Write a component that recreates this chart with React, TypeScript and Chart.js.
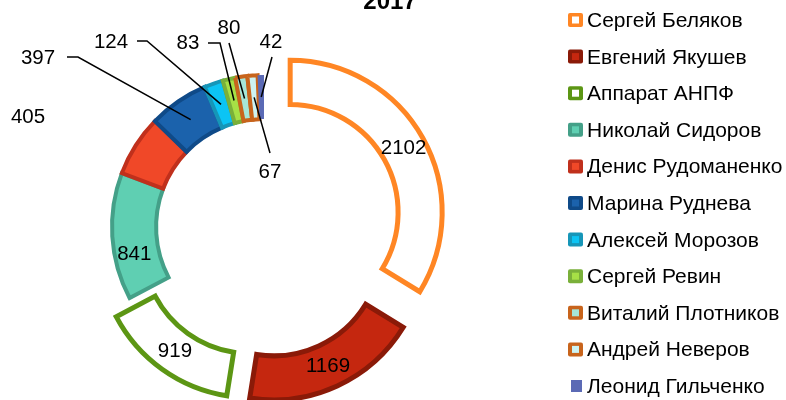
import React, { useEffect, useRef } from 'react';
import { Chart, registerables } from 'chart.js';

Chart.register(...registerables);

const TITLE = '2017';
const NAMES = [
  'Сергей Беляков',
  'Евгений Якушев',
  'Аппарат АНПФ',
  'Николай Сидоров',
  'Денис Рудоманенко',
  'Марина Руднева',
  'Алексей Морозов',
  'Сергей Ревин',
  'Виталий Плотников',
  'Андрей Неверов',
  'Леонид Гильченко',
];
const VALUES = [2102, 1169, 919, 841, 405, 397, 124, 83, 80, 67, 42];

const FILLS = ['#FFFFFF', '#C5270F', '#FFFFFF', '#5FCFB2', '#F04828', '#1B62AC', '#0CC4F4', '#A6E046', '#A6E6D8', '#CDF3F3', '#5B6AB5'];
const BORDERS = ['#FF8624', '#8A1A08', '#5C9614', '#44A088', '#C0301C', '#0F4A88', '#1696B8', '#7AB03A', '#C8641C', '#C8641C', '#5B6AB5'];
const BORDER_WIDTHS = [5, 5, 5, 4, 4, 4, 4, 4, 4, 4, 0];
const EXPLODE = [30, 23, 23, 0, 0, 0, 0, 0, 0, 0, 0];

type LabelLayout = { text?: [number, number]; dx?: number; dy?: number; path?: [number, number][] };
const LABEL_LAYOUT: LabelLayout[] = [
  {},
  {},
  {},
  { dy: 19 },
  { text: [28, 117] },
  { text: [38, 58], path: [[67, 57], [78, 57]] },
  { text: [111, 42], path: [[137, 41], [147, 41]] },
  { text: [188, 43], path: [[208, 43], [220, 43]] },
  { text: [229, 28], path: [[229, 43]] },
  { text: [270, 172], path: [[270, 153]] },
  { text: [271, 42], path: [[272, 57]] },
];

const FONT = "'Liberation Sans', Arial, sans-serif";

const donutPlugin = {
  id: 'donutExtras',
  beforeDatasetDraw(chart: any, args: any) {
    const ctx = chart.ctx;
    args.meta.data.forEach((arc: any, i: number) => {
      const mid = (arc.startAngle + arc.endAngle) / 2;
      const e = EXPLODE[i] || 0;
      ctx.save();
      ctx.translate(Math.cos(mid) * e, Math.sin(mid) * e);
      arc.draw(ctx, chart.chartArea);
      ctx.restore();
    });
    return false;
  },
  afterDatasetsDraw(chart: any) {
    const ctx = chart.ctx;
    const meta = chart.getDatasetMeta(0);
    ctx.save();
    ctx.font = `20.5px ${FONT}`;
    ctx.fillStyle = '#000';
    ctx.strokeStyle = '#000';
    ctx.lineWidth = 1.5;
    ctx.textAlign = 'center';
    ctx.textBaseline = 'middle';
    meta.data.forEach((arc: any, i: number) => {
      const mid = (arc.startAngle + arc.endAngle) / 2;
      const e = EXPLODE[i] || 0;
      const rm = (arc.innerRadius + arc.outerRadius) / 2;
      const ax = arc.x + Math.cos(mid) * (rm + e);
      const ay = arc.y + Math.sin(mid) * (rm + e);
      const lay = LABEL_LAYOUT[i] || {};
      const txt = String(VALUES[i]);
      if (lay.text) {
        if (lay.path) {
          ctx.beginPath();
          lay.path.forEach((p, k) => (k === 0 ? ctx.moveTo(p[0], p[1]) : ctx.lineTo(p[0], p[1])));
          ctx.lineTo(ax, ay);
          ctx.stroke();
        }
        ctx.fillText(txt, lay.text[0], lay.text[1]);
      } else {
        ctx.fillText(txt, ax + (lay.dx || 0), ay + (lay.dy || 0));
      }
    });
    ctx.restore();
  },
  afterDraw(chart: any) {
    const ctx = chart.ctx;
    ctx.save();
    // title
    ctx.font = `bold 24px ${FONT}`;
    ctx.fillStyle = '#000';
    ctx.textAlign = 'center';
    ctx.textBaseline = 'alphabetic';
    ctx.fillText(TITLE, 390, 9);
    // legend
    ctx.font = `21px ${FONT}`;
    ctx.textAlign = 'left';
    NAMES.forEach((name, i) => {
      const base = 27 + i * 36.6;
      const cy = base - 7;
      if (BORDER_WIDTHS[i] > 0) {
        ctx.fillStyle = BORDERS[i];
        ctx.beginPath();
        (ctx as any).roundRect(568, cy - 7, 15, 14, 2);
        ctx.fill();
        ctx.fillStyle = FILLS[i];
        ctx.fillRect(572, cy - 3.5, 7, 7);
      } else {
        ctx.fillStyle = FILLS[i];
        ctx.fillRect(571, cy - 6, 11, 12);
      }
      ctx.fillStyle = '#000';
      ctx.fillText(name, 587, base);
    });
    ctx.restore();
  },
};

export default function App() {
  const ref = useRef<HTMLCanvasElement>(null);
  useEffect(() => {
    if (!ref.current) return;
    const chart = new Chart(ref.current, {
      type: 'doughnut',
      data: {
        labels: NAMES,
        datasets: [
          {
            data: VALUES,
            backgroundColor: FILLS,
            borderColor: BORDERS,
            borderWidth: BORDER_WIDTHS,
            borderJoinStyle: 'miter',
          } as any,
        ],
      },
      options: {
        animation: false,
        responsive: false,
        devicePixelRatio: 1,
        events: [],
        radius: 152,
        cutout: '71%',
        layout: { padding: { left: 0, right: 258, top: 54, bottom: 0 } },
        plugins: {
          legend: { display: false },
          title: { display: false },
          tooltip: { enabled: false },
        },
      } as any,
      plugins: [donutPlugin as any],
    });
    return () => chart.destroy();
  }, []);
  return (
    <div style={{ position: 'absolute', left: 0, top: 0, width: 786, height: 400, background: '#fff' }}>
      <canvas ref={ref} width={786} height={400} style={{ width: 786, height: 400 }} />
    </div>
  );
}
